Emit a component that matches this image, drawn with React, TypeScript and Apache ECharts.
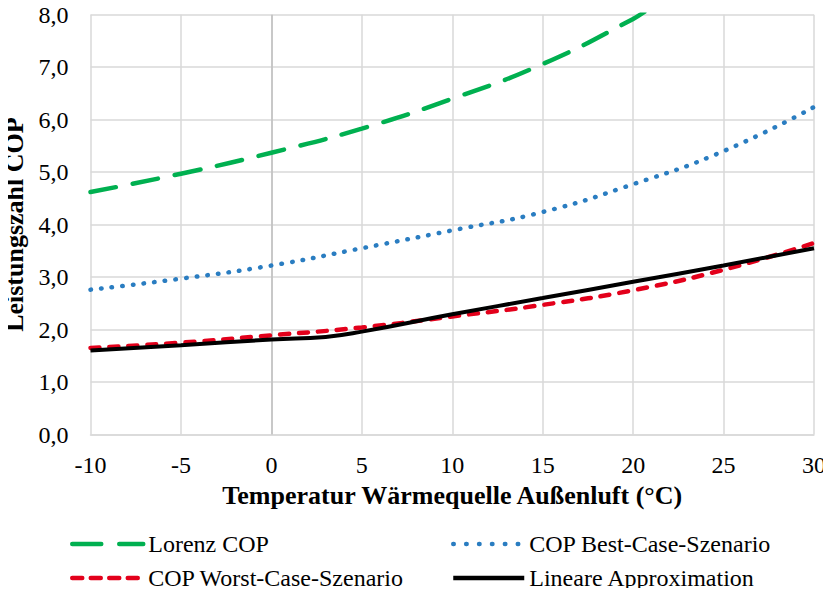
import React, { useEffect, useRef } from "react";
import * as echarts from "echarts";

// Außentemperatur (°C) und Leistungszahlen
const lorenzTemps = [-10, -5, 0, 5, 10, 15, 20, 21];
const lorenzCop = [4.62, 4.97, 5.37, 5.83, 6.4, 7.06, 7.92, 8.15];

const caseTemps = [-10, -5, 0, 5, 10, 15, 20, 25, 30];
const bestCaseCop = [2.76, 2.97, 3.22, 3.55, 3.89, 4.24, 4.77, 5.4, 6.24];
const worstCaseCop = [1.65, 1.75, 1.89, 2.04, 2.25, 2.47, 2.75, 3.14, 3.65];

const approxTemps = [-10, -5, 0, 3, 5, 10, 15, 20, 25, 30];
const approxCop = [1.6, 1.7, 1.81, 1.86, 1.96, 2.29, 2.6, 2.91, 3.22, 3.55];

const seriesNames = [
  "Lorenz COP",
  "COP Best-Case-Szenario",
  "COP Worst-Case-Szenario",
  "Lineare Approximation",
];

const colors = ["#00b050", "#2a7dc1", "#e3001b", "#000000"];

const FONT = '"Liberation Serif", "Times New Roman", serif';

const pairs = (xs: number[], ys: number[]) => xs.map((x, i) => [x, ys[i]]);

// line patterns for the plot and for the legend keys
const plotDash: any[] = [[26, 17], [0.5, 10.2], [9, 10], "solid"];
const keyDash: any[] = [[29, 18], [0.5, 12.4], [10, 8.5], "solid"];

const legendEntry = (i: number) => ({
  name: seriesNames[i],
  itemStyle: { opacity: 0, borderWidth: 0 },
  lineStyle: {
    color: colors[i],
    width: 4.5,
    type: keyDash[i],
    cap: i === 3 ? "butt" : "round",
    opacity: 1,
  },
});

export default function App() {
  const ref = useRef<HTMLDivElement>(null);

  useEffect(() => {
    if (!ref.current) return;
    const chart = echarts.init(ref.current, undefined, { renderer: "svg" });

    const legendBase = {
      orient: "vertical",
      top: 531,
      padding: 0,
      itemWidth: 71,
      itemHeight: 14,
      itemGap: 8,
      textStyle: { fontFamily: FONT, fontSize: 24, lineHeight: 26, color: "#000" },
    };

    const titleStyle = { fontFamily: FONT, fontSize: 26, fontWeight: "bold", color: "#000" };
    const tickStyle = { fontFamily: FONT, fontSize: 24, color: "#000" };
    const gridLine = { show: true, lineStyle: { color: "#d9d9d9", width: 1.5 } };

    chart.setOption({
      animation: false,
      backgroundColor: "#fff",
      grid: {
        left: 90.5,
        right: 17,
        top: 14.7,
        bottom: 161.5,
        containLabel: false,
        outerBoundsMode: "none",
      },
      xAxis: {
        type: "value",
        min: -10,
        max: 30,
        interval: 5,
        name: "Temperatur Wärmequelle Außenluft (°C)",
        nameLocation: "middle",
        nameGap: 48,
        nameTextStyle: titleStyle,
        axisLine: { show: true, lineStyle: { color: "#d9d9d9", width: 1.5 } },
        axisTick: { show: false },
        axisLabel: { ...tickStyle, margin: 18 },
        splitLine: gridLine,
      },
      yAxis: {
        type: "value",
        min: 0,
        max: 8,
        interval: 1,
        name: "Leistungszahl COP",
        nameLocation: "middle",
        nameGap: 60,
        nameTextStyle: titleStyle,
        axisLine: { show: false },
        axisTick: { show: false },
        axisLabel: {
          ...tickStyle,
          margin: 22,
          formatter: (v: number) => v.toFixed(1).replace(".", ","),
        },
        splitLine: gridLine,
      },
      legend: [
        { ...legendBase, left: 70, data: [legendEntry(0), legendEntry(2)] },
        { ...legendBase, left: 451, data: [legendEntry(1), legendEntry(3)] },
      ],
      series: seriesNames.map((name, i) => {
        const xs = i === 0 ? lorenzTemps : i === 3 ? approxTemps : caseTemps;
        const ys = [lorenzCop, bestCaseCop, worstCaseCop, approxCop][i];
        const s: any = {
          name,
          type: "line",
          smooth: true,
          symbol: "none",
          z: i === 3 ? 4 : 3,
          data: pairs(xs, ys),
          lineStyle: {
            color: colors[i],
            width: i === 3 ? 4 : 4.5,
            type: plotDash[i],
            cap: i === 3 ? "butt" : "round",
          },
          itemStyle: { color: colors[i] },
        };
        if (i === 0) {
          // darker vertical line at 0 °C
          s.markLine = {
            silent: true,
            symbol: "none",
            z: 1,
            label: { show: false },
            lineStyle: { color: "#bfbfbf", width: 1.5, type: "solid" },
            data: [{ xAxis: 0 }],
          };
        }
        return s;
      }),
    });

    return () => chart.dispose();
  }, []);

  return <div ref={ref} style={{ width: 831, height: 596, margin: -8 }} />;
}
